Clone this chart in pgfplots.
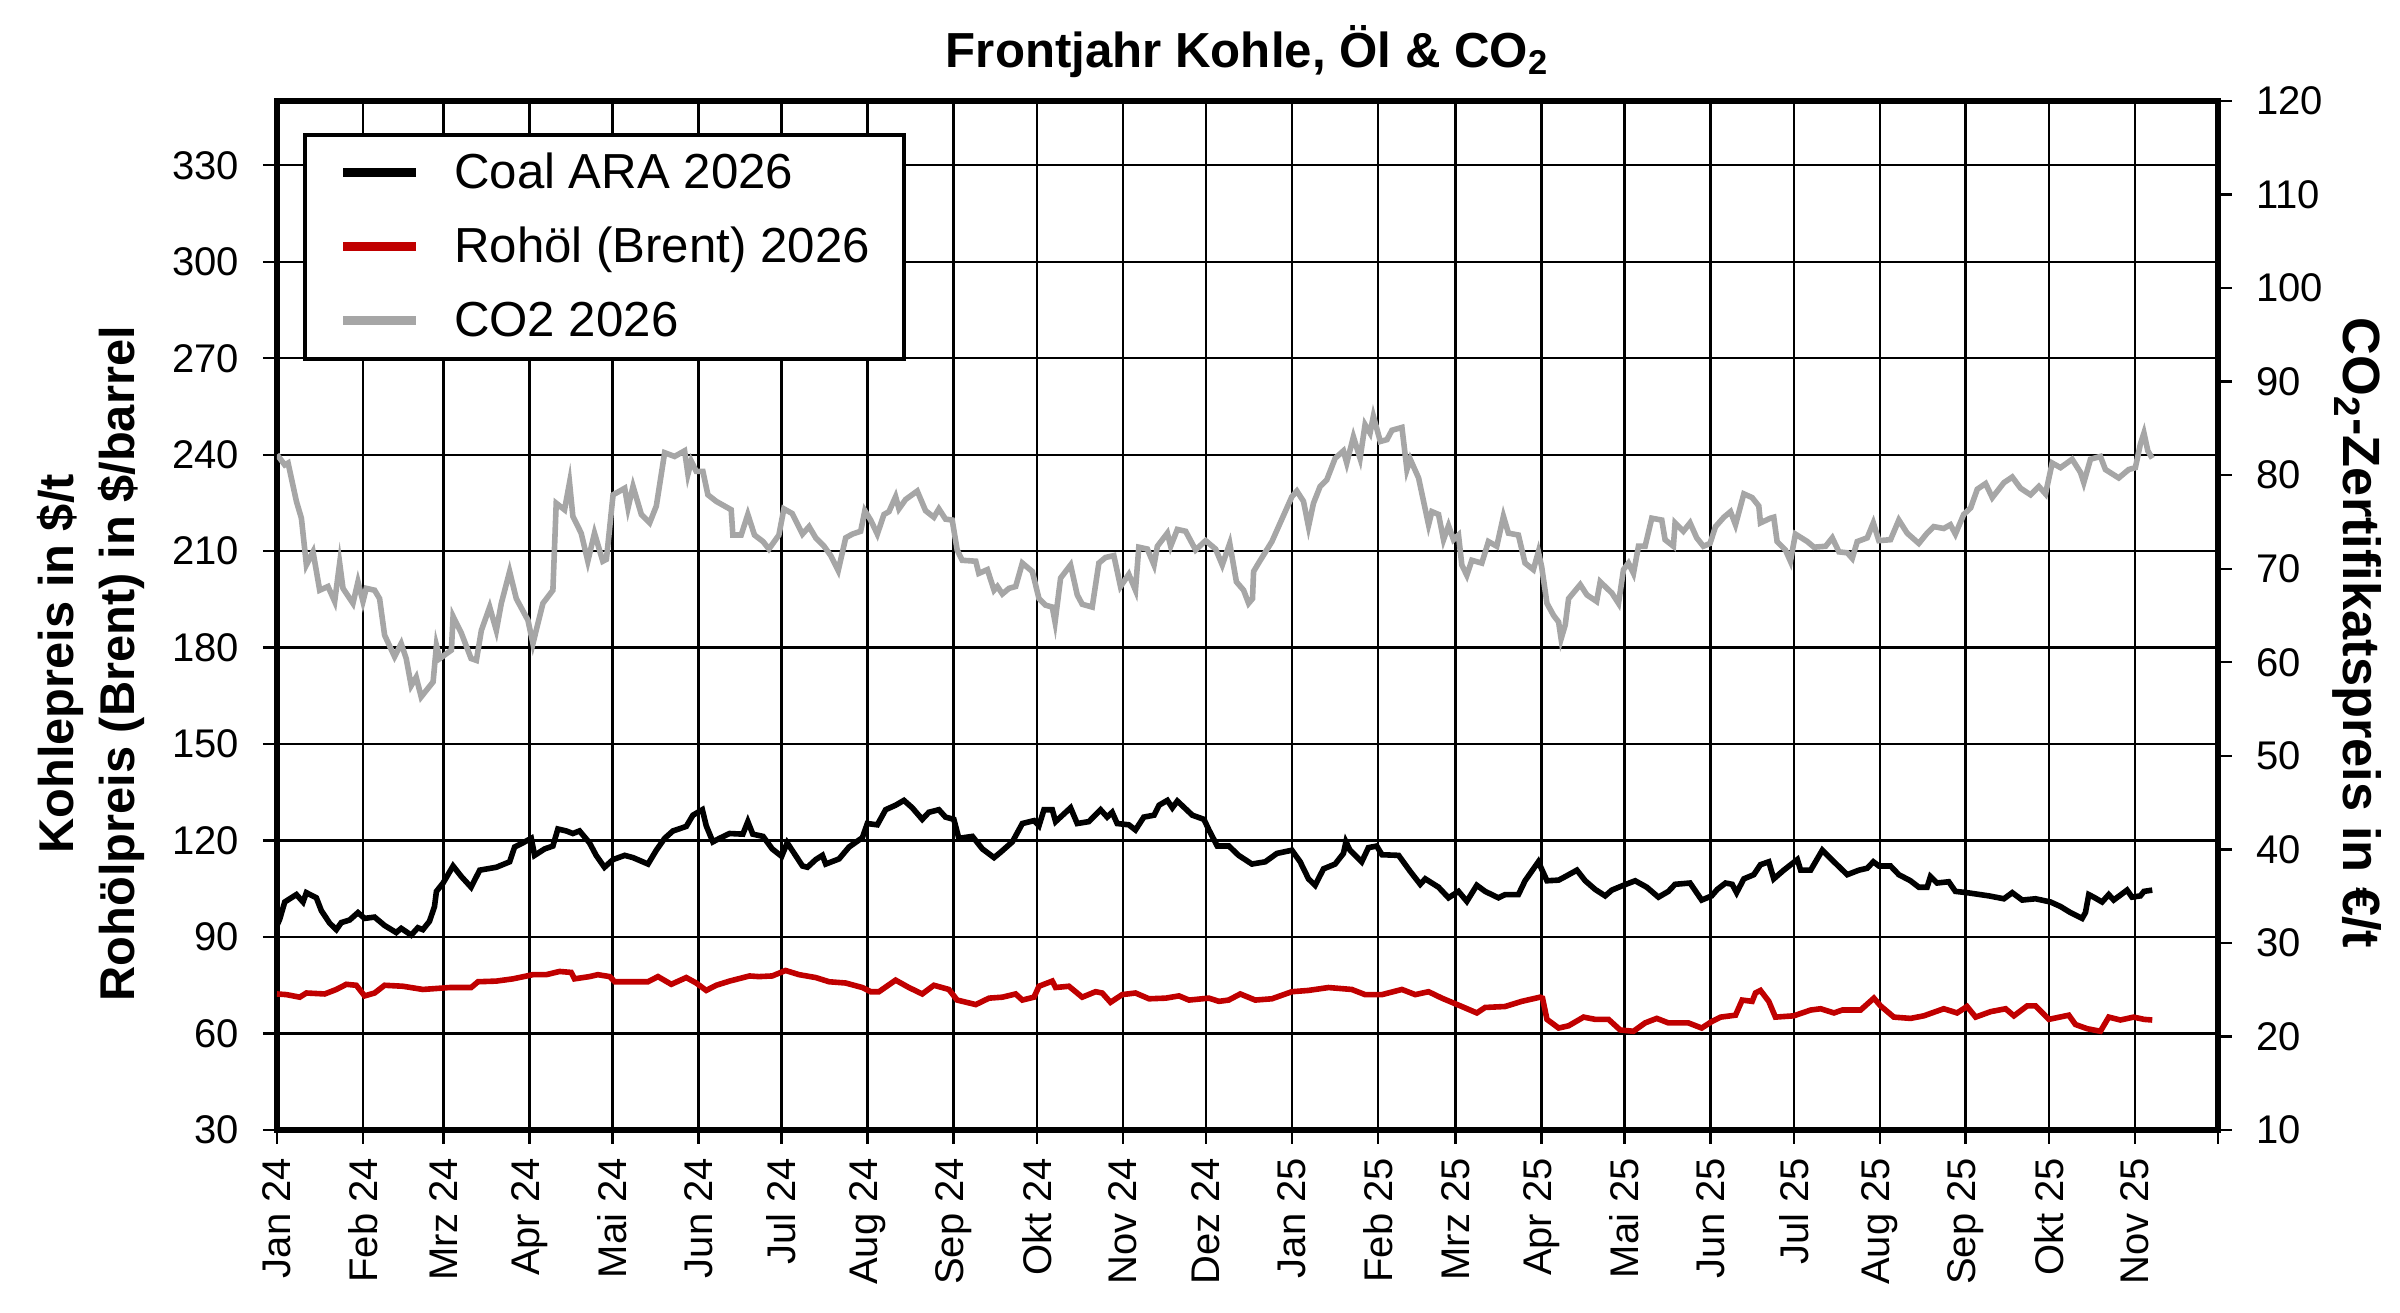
\documentclass[border=0pt]{standalone}
\usepackage{fontspec}
\setmainfont{Liberation Sans}
\usepackage{pgfplots}
\pgfplotsset{compat=1.18}
\usepackage{pgfplotstable}

\definecolor{oilred}{RGB}{192,0,0}
\definecolor{co2gray}{RGB}{166,166,166}

\pgfplotstableread{
d v
0 93.6
1 95.6
2.8 100.9
4.6 101.9
7 103.2
9.4 100.9
10.6 103.8
14.2 102.2
16 98.2
19 94.3
21.4 92.3
23.2 94.5
26.2 95.3
29.2 97.6
31.6 95.8
35.2 96.2
38.8 93.6
43 91.4
44.8 92.7
48.4 90.6
50.8 92.9
52.6 92.3
55 94.9
56.8 99.5
57.5 104.2
59.9 106.8
63.5 112.1
66.5 108.8
70 105.5
73.1 110.8
79.1 111.7
83.9 113.4
85.7 118.0
88.7 119.3
91.7 120.7
92.9 115.4
96.5 117.4
99.5 118.3
101.3 123.6
104.3 123.0
106.7 122.2
109.1 123.0
112.7 119.3
115.1 115.4
118.1 111.7
121.2 114.1
125.4 115.4
128.4 114.7
133.8 112.7
136.8 117.0
139.8 120.7
142.8 123.0
147.6 124.4
150 127.9
153.4 129.6
154.8 124.6
157.2 119.6
159.6 120.7
163.2 122.2
168 122.0
169.8 125.9
171.6 122.0
175.3 121.3
178.6 117.4
182 115.1
184 119.3
187 115.4
189.5 112.1
191.3 111.7
194.3 114.1
196.7 115.4
197.9 112.7
202.7 114.3
206.3 118.0
211.1 120.9
212.9 125.3
216.5 124.9
219.5 129.6
223.1 131.0
226.1 132.5
229.1 130.2
232.7 126.6
235.1 128.8
238.7 129.6
241.1 127.3
244.1 126.6
245.9 120.7
250.8 121.3
254.4 117.4
258.6 114.7
261 116.4
265.2 119.6
268.8 125.3
273 126.2
274.8 124.6
276.6 129.6
279.6 129.6
280.8 125.9
286.2 130.2
288.6 125.3
292.8 125.9
297 129.6
299.4 127.3
301.2 128.8
303 125.3
307.2 124.9
309.6 123.3
312.6 127.3
316.3 127.9
318.1 131.0
321.1 132.5
322.9 130.2
324.7 132.3
330.1 127.9
334.3 126.6
336.1 123.3
339.1 118.3
343.3 118.3
346.8 115.4
351.6 112.7
356.4 113.4
360.6 116.0
366 117.0
369 113.4
372 108.1
374.4 106.1
377.4 111.2
381.6 112.7
384.6 116.0
385.5 119.6
387 117.0
391.2 113.4
393.6 117.8
396.6 118.3
398.5 115.6
404.5 115.4
408.7 110.4
412.3 106.4
414.1 108.1
418.9 105.5
422.5 102.2
426.1 104.2
429.1 101.1
432.7 106.1
435.7 104.2
440.5 102.2
442.9 103.2
447.7 103.2
450.1 107.5
454.9 113.4
458 107.5
462.2 107.7
464.6 108.8
468.8 110.8
471.8 107.5
475.4 104.8
479 102.8
481.4 104.6
485.6 106.1
489.8 107.5
494 105.5
498.2 102.4
501.8 104.2
504.2 106.4
509.6 106.8
513.8 101.5
517.4 102.8
519.4 104.8
522.4 106.8
524.8 106.4
526.4 103.8
529 108.1
532.6 109.4
535 112.5
538 113.4
539.8 108.1
543.4 110.8
548.3 114.1
549.5 110.8
553.1 110.8
557.3 117.0
561.5 113.4
566.3 109.4
570.5 110.8
573.5 111.4
575.7 113.4
577.7 112.1
581.9 112.1
584.9 109.4
589.1 107.5
592.1 105.5
595.1 105.5
596.3 108.8
598.7 106.8
602.9 107.2
605.3 104.2
609.5 103.8
617.4 102.8
622.8 101.9
625.8 103.8
629.4 101.5
634.2 101.9
639.6 100.9
643.2 99.5
646.8 97.6
651 95.8
652.2 97.6
653.4 103.2
655.2 102.4
658.2 100.9
660.6 103.2
662.4 101.5
667.2 104.6
669 102.4
672 102.8
673.3 104.2
676.3 104.6
}\coaldata

\pgfplotstableread{
d v
0 72.3
3.4 72.1
8.2 71.3
10.6 72.6
17.2 72.3
21.4 73.7
25 75.3
28.6 75.0
31.6 71.7
35.2 72.6
38.8 75.0
45.4 74.7
52.6 73.7
62.3 74.3
70 74.3
72.5 76.1
79.1 76.3
85.1 77.0
92.3 78.3
97.1 78.3
101.9 79.3
106.1 79.0
107.3 77.0
112.7 77.7
115.7 78.3
120 77.7
121.8 76.1
128.4 76.1
133.8 76.1
137.4 77.7
142.2 75.3
147.6 77.4
151.2 75.7
154.8 73.4
158.4 75.0
163.2 76.3
170.4 77.9
173.8 77.7
178.6 77.9
183.4 79.6
188.3 78.3
194.3 77.4
199.1 76.1
205.1 75.7
211.1 74.3
214.1 73.0
217.1 73.0
223.1 76.6
227.9 74.3
232.7 72.3
236.9 75.0
242.3 73.7
245.3 70.4
252 69.0
256.8 71.0
261.6 71.3
266.4 72.3
268.8 70.4
273 71.3
274.8 74.7
279.6 76.3
280.8 74.3
285.6 74.7
290.4 71.3
295.2 73.0
297.6 72.6
300.6 69.7
304.8 72.1
309.6 72.6
314.5 70.8
320.5 71.0
325.3 71.7
328.9 70.4
336.1 71.0
339.7 70.0
343.2 70.4
347.4 72.3
352.8 70.4
358.8 70.8
366 73.0
372 73.4
379.2 74.3
387.6 73.7
392.4 72.1
398.5 72.1
405.7 73.7
410.5 72.1
415.3 73.0
420.1 71.0
427.3 68.4
432.7 66.4
435.7 68.1
442.9 68.4
448.9 70.0
455.5 71.3
456.4 71.0
458 64.4
462.2 61.7
465.8 62.4
471.2 65.1
475.4 64.4
480.2 64.4
484.4 61.1
489.2 60.7
493.4 63.3
497.6 64.7
501.8 63.3
509 63.3
513.8 61.7
517.4 63.7
520.6 65.1
526 65.7
528.4 70.4
532 70.0
533.2 72.6
535 73.4
538 70.0
540.4 65.1
547 65.5
553.1 67.3
556.7 67.7
561.5 66.4
564.5 67.3
571.1 67.3
575.9 71.0
578.3 68.6
583.1 65.1
589.1 64.7
593.9 65.5
601.1 67.7
605.9 66.4
609.5 68.4
612.6 65.1
618 66.8
623.4 67.7
626.4 65.5
631.2 68.6
634.2 68.6
639 64.4
646.2 65.7
648.6 62.8
652.8 61.5
657.6 60.7
660.6 65.1
664.8 64.2
669.6 65.1
673.3 64.4
676.3 64.2
}\oildata

\pgfplotstableread{
d v
0 82.2
2.8 81.1
4 81.3
7 77.2
8.8 75.4
10.6 70.4
13 71.8
15.4 67.7
18.4 68.1
20.8 66.5
22.6 70.6
23.8 67.9
27.4 66.3
29.2 68.6
31 66.5
32.2 67.9
35.2 67.7
37 66.8
38.8 62.9
42.4 60.6
44.8 62.0
46.6 60.4
48.4 57.5
50.2 58.4
52 56.3
56.3 57.9
57.5 61.8
58.7 60.4
62.9 61.3
63.5 64.9
66.5 63.1
70 60.4
71.9 60.2
73.7 63.4
76.7 65.9
79.1 63.4
80.9 66.3
83.9 69.7
86.3 66.8
90.5 64.5
92.3 62.0
95.9 66.3
99.5 67.7
100.7 77.0
103.7 76.3
105.5 79.2
106.7 75.6
109.7 73.8
112.1 70.8
114.5 73.8
117.5 70.8
118.8 71.0
121.2 77.9
125.4 78.6
126.6 76.5
128.4 78.8
131.4 75.8
134.4 74.9
136.8 76.7
139.8 82.4
143.4 82.0
147 82.6
148.2 80.1
149.4 81.5
151.2 80.4
153.6 80.4
155.4 77.9
158.4 77.2
163.8 76.3
164.4 73.6
167.4 73.6
169.8 75.8
172.2 73.6
175.3 72.9
177.4 72.1
181 73.6
182.8 76.4
185.8 75.9
189.5 73.7
191.9 74.5
194.3 73.3
197.3 72.4
199.7 71.4
202.4 69.8
205.1 73.3
207.5 73.7
210.5 74.0
212 76.2
214.1 75.2
216.5 73.7
218.9 75.8
220.7 76.1
223.1 77.7
224.3 76.4
226.7 77.4
230.9 78.3
233.9 76.2
236.9 75.5
238.7 76.4
241.1 75.3
243.5 75.2
245.3 72.0
247.1 70.9
252 70.8
253.1 69.5
256.2 69.9
258.6 67.7
259.8 68.1
261.6 67.3
264 67.9
266.4 68.1
268.8 70.6
272.4 69.7
274.8 66.8
277.2 66.1
279.6 65.9
280.6 64.3
282.6 69.0
286.2 70.4
288.6 67.2
290.4 66.2
294 65.9
296.4 70.6
298.8 71.2
301.8 71.4
304.2 68.1
307.2 69.4
309.6 67.7
310.8 72.3
313.9 72.1
316.3 70.4
317.5 72.4
321.1 73.8
322.3 72.4
324.7 74.2
327.7 74.0
331.3 72.0
334.9 73.0
338.5 72.1
340.9 70.4
343.6 72.7
346 68.6
348.6 67.7
350.4 66.3
351.8 66.8
352.2 69.7
354 70.6
358.8 72.9
366 77.7
367.8 78.3
370.2 77.2
372 74.5
373.8 77.0
376.2 78.8
378.6 79.5
381.6 81.8
384.6 82.6
385.8 81.3
388.2 84.1
390.6 81.8
392.4 85.4
394.2 84.5
395.4 86.3
397.9 83.6
400.3 83.8
402.1 84.8
405.7 85.1
407.5 80.6
408.7 81.7
411.7 79.7
413.5 77.2
415.3 74.7
416.5 76.1
418.9 75.8
420.7 73.1
422.5 74.6
424.3 73.1
426.1 73.6
427.3 70.4
429.1 69.3
430.9 70.9
434.5 70.6
436.9 72.9
439.9 72.4
442.3 75.6
444.1 73.8
447.7 73.6
450.1 70.6
453.1 69.9
454.9 71.8
456.1 70.2
458 66.3
460.4 65.0
462.2 64.3
463.1 62.5
464.6 64.0
465.8 66.8
470 68.3
472.4 67.2
475.9 66.5
477.2 68.6
481.4 67.4
483.8 66.3
485.6 69.9
487.4 70.6
489.2 69.5
491 72.4
493.4 72.4
495.8 75.4
499.4 75.2
500.6 73.1
503.6 72.4
504.2 74.9
507.2 74.0
509.6 74.9
512 73.3
514.4 72.4
516.8 72.7
518.8 74.5
521.8 75.5
524.2 76.1
526 74.7
529 78.0
532 77.6
534.4 76.7
535 74.9
538.6 75.4
539.8 75.5
541 72.9
544 72.0
545.8 70.8
547.6 73.7
551.9 72.9
554.3 72.3
558.5 72.4
560.9 73.3
563.3 71.8
566.3 71.7
568.1 71.1
569.9 72.9
573.5 73.3
575.7 74.9
577.7 73.0
581.9 73.1
584.9 75.2
587.9 73.8
592.1 72.7
595.1 73.8
597.5 74.5
601.1 74.3
603.5 74.7
605.3 73.7
608.3 75.8
610.8 76.5
613.2 78.5
616.2 79.1
618.6 77.6
622.8 79.2
625.8 79.8
628.8 78.6
632.4 77.9
635.4 78.8
637.8 78.0
640.2 81.3
643.2 80.8
647.4 81.7
650.4 80.3
651.6 79.2
654 81.7
657.6 82.0
659.4 80.6
664.2 79.7
667.8 80.6
670.2 80.8
672 83.3
673.3 84.5
674.7 82.6
676.3 81.8
}\cotwodata

\begin{document}
\begin{tikzpicture}
\useasboundingbox (-69.25pt,-45.75pt) rectangle (530.75pt,282.5pt);
\begin{axis}[
  at={(0pt,0pt)}, anchor=south west,
  scale only axis, width=485.25pt, height=257.25pt,
  xmin=0, xmax=700, ymin=30, ymax=350,
  xtick={0,31,60,91,121,152,182,213,244,274,305,335,366,397,425,456,486,517,547,578,609,639,670,700},
  xticklabels={Jan 24,Feb 24,Mrz 24,Apr 24,Mai 24,Jun 24,Jul 24,Aug 24,Sep 24,Okt 24,Nov 24,Dez 24,Jan 25,Feb 25,Mrz 25,Apr 25,Mai 25,Jun 25,Jul 25,Aug 25,Sep 25,Okt 25,Nov 25,{}},
  ytick={30,60,...,330},
  grid=major, major grid style={black, line width=0.6pt},
  axis line style={line width=1.5pt},
  tick style={black, line width=0.6pt},
  tick align=outside, major tick length=3.5pt,
  tick pos=left,
  tick label style={font=\fontsize{10}{12}\selectfont},
  /pgf/number format/assume math mode=true,
  xticklabel style={rotate=90, anchor=east},
  yticklabel style={xshift=-2.5pt},
  ylabel={Kohlepreis in \$/t\\Rohölpreis (Brent) in \$/barrel},
  ylabel style={font=\bfseries\fontsize{12.2}{15.25}\selectfont, align=center, at={([xshift=-46.4pt]axis description cs:0,0.453)}, anchor=center},
  title={Frontjahr Kohle, Öl \& CO\textsubscript{2}},
  title style={font=\bfseries\fontsize{12.3}{14}\selectfont, at={(axis description cs:0.5,1)}, anchor=base, yshift=2.4pt},
]
\addplot[black, line width=1.4pt] table[x=d, y=v] {\coaldata};
\addplot[oilred, line width=1.4pt] table[x=d, y=v] {\oildata};
\end{axis}
\begin{axis}[
  at={(0pt,0pt)}, anchor=south west,
  scale only axis, width=485.25pt, height=257.25pt,
  xmin=0, xmax=700, ymin=10, ymax=120,
  hide x axis, axis y line*=right,
  ytick={10,20,...,120},
  axis line style={-, line width=1.5pt},
  tick style={black, line width=0.6pt},
  tick align=outside, major tick length=3.5pt,
  tick label style={font=\fontsize{10}{12}\selectfont},
  yticklabel style={xshift=2.5pt},
  /pgf/number format/assume math mode=true,
  ylabel={CO\textsubscript{2}-Zertifikatspreis in €/t},
  every axis y label/.style={at={([xshift=34.75pt]axis description cs:1,0.483)}, rotate=-90, anchor=center, font=\bfseries\fontsize{13.1}{15}\selectfont},
  legend cell align=left,
  legend image code/.code={\draw[#1] (0pt,0pt) -- (18.25pt,0pt);},
  legend style={at={(axis description cs:0,1)}, anchor=north west, xshift=6.5pt, yshift=-8pt,
    draw=black, line width=0.9pt, fill=white, font=\fontsize{12.3}{14}\selectfont,
    inner xsep=8.5pt, inner ysep=3pt, row sep=5.5pt,
    nodes={inner sep=0pt, text height=10.5pt, text depth=2.5pt},
    /tikz/every odd column/.append style={column sep=8.4pt}},
]
\addlegendimage{black, line width=2.2pt}
\addlegendentry{Coal ARA 2026}
\addlegendimage{oilred, line width=2.2pt}
\addlegendentry{Rohöl (Brent) 2026}
\addlegendimage{co2gray, line width=2.2pt}
\addlegendentry{CO2 2026}
\addplot[co2gray, line width=1.4pt, forget plot] table[x=d, y=v] {\cotwodata};
\end{axis}
\end{tikzpicture}
\end{document}
